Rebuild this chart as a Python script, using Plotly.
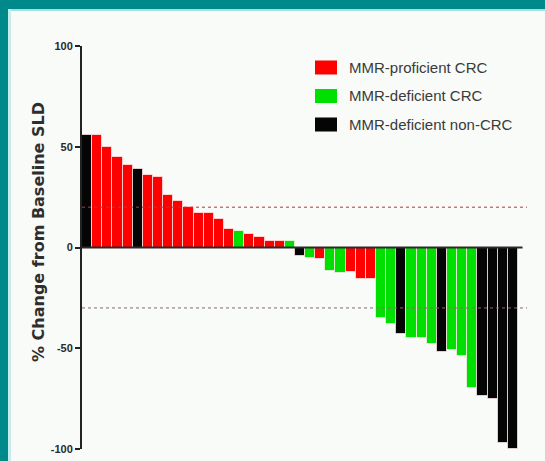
import plotly.graph_objects as go

# Best % change from baseline sum of longest diameters, one bar per patient
patients = list(range(1, 44))
pct_change = [56, 56, 50, 45, 41, 39, 36, 35, 26, 23,
              20, 17, 17, 14, 9, 8, 6.5, 5, 3, 3,
              3, -4, -5, -5.5, -11.5, -12.5, -12, -15.5, -15.5, -35,
              -38, -43, -45, -45, -48, -52, -51, -54, -69.5, -73.5,
              -75, -97, -100]
cohort = ["nc", "p", "p", "p", "p", "nc", "p", "p", "p", "p",
          "p", "p", "p", "p", "p", "d", "p", "p", "p", "p",
          "d", "nc", "d", "p", "d", "d", "p", "p", "p", "d",
          "d", "nc", "d", "d", "d", "nc", "d", "d", "d", "nc",
          "nc", "nc", "nc"]

cohort_labels = {"p": "MMR-proficient CRC",
                 "d": "MMR-deficient CRC",
                 "nc": "MMR-deficient non-CRC"}
cohort_colors = {"p": "#ff0000", "d": "#00e000", "nc": "#050505"}

y_ticks = [-100, -50, 0, 50, 100]
progression_cut = 20
response_cut = -30

W, H = 545, 461
ML, MR, MT, MB = 82, 18, 46, 12
pw, ph = W - ML - MR, H - MT - MB


def px_x(px):
    return (px - ML) / pw


def px_y(py):
    return (H - MB - py) / ph


fig = go.Figure()
fig.add_trace(go.Bar(
    x=patients,
    y=pct_change,
    marker=dict(color=[cohort_colors[c] for c in cohort],
                line=dict(color="rgba(255,235,235,0.75)", width=1)),
    width=1.0,
    showlegend=False,
))

shapes = []
# frame of the slide
teal = "#00898b"
shapes.append(dict(type="rect", xref="paper", yref="paper",
                   x0=px_x(0), x1=px_x(W), y0=px_y(9), y1=px_y(0),
                   fillcolor=teal, line_width=0, layer="below"))
shapes.append(dict(type="rect", xref="paper", yref="paper",
                   x0=px_x(0), x1=px_x(8), y0=px_y(H), y1=px_y(0),
                   fillcolor=teal, line_width=0, layer="below"))
shapes.append(dict(type="rect", xref="paper", yref="paper",
                   x0=px_x(8), x1=px_x(W), y0=px_y(11), y1=px_y(9),
                   fillcolor="#a8e0e0", line_width=0, layer="below"))
shapes.append(dict(type="rect", xref="paper", yref="paper",
                   x0=px_x(8), x1=px_x(11), y0=px_y(H), y1=px_y(9),
                   fillcolor="#c8ecec", line_width=0, layer="below"))

# threshold lines
shapes.append(dict(type="line", xref="paper", yref="y", x0=0, x1=1,
                   y0=progression_cut, y1=progression_cut,
                   line=dict(color="#b03a3a", width=1, dash="dot")))
shapes.append(dict(type="line", xref="paper", yref="y", x0=0, x1=1,
                   y0=response_cut, y1=response_cut,
                   line=dict(color="#8a6a6a", width=1, dash="dot")))
# baseline axis at 0
shapes.append(dict(type="line", xref="x", yref="y", x0=0.5, x1=43.95,
                   y0=0, y1=0, line=dict(color="#2a2a2a", width=2)))

# legend boxes and labels
annotations = []
legend_rows = [("p", 67.5), ("d", 96), ("nc", 124.5)]
for key, yc in legend_rows:
    shapes.append(dict(type="rect", xref="paper", yref="paper",
                       x0=px_x(315), x1=px_x(337),
                       y0=px_y(yc + 7), y1=px_y(yc - 7),
                       fillcolor=cohort_colors[key], line_width=0))
    annotations.append(dict(xref="paper", yref="paper",
                            x=px_x(347), y=px_y(yc),
                            xanchor="left", yanchor="middle",
                            text=cohort_labels[key], showarrow=False,
                            font=dict(family="Arial", size=15, color="#3a3a3a")))

annotations.append(dict(xref="paper", yref="paper",
                        x=px_x(38), y=px_y(232),
                        xanchor="center", yanchor="middle",
                        text="<b>% Change from Baseline SLD</b>",
                        textangle=-90, showarrow=False,
                        font=dict(family="DejaVu Sans", size=16, color="#2e2e2e")))

fig.update_layout(
    width=W, height=H,
    margin=dict(l=ML, r=MR, t=MT, b=MB),
    paper_bgcolor="#f8fbf8",
    plot_bgcolor="#f8fbf8",
    bargap=0,
    shapes=shapes,
    annotations=annotations,
    xaxis=dict(range=[0.5, 44.39], visible=False, automargin=False),
    yaxis=dict(range=[-100, 100], tickvals=y_ticks,
               ticktext=[f"<b>{v}</b>" for v in y_ticks],
               automargin=False,
               showgrid=False, zeroline=False,
               showline=True, linecolor="#222", linewidth=2,
               ticks="outside", ticklen=5, tickwidth=2, tickcolor="#222",
               tickfont=dict(family="Arial", size=11, color="#2a2a2a")),
)

fig.write_html("out.html")
